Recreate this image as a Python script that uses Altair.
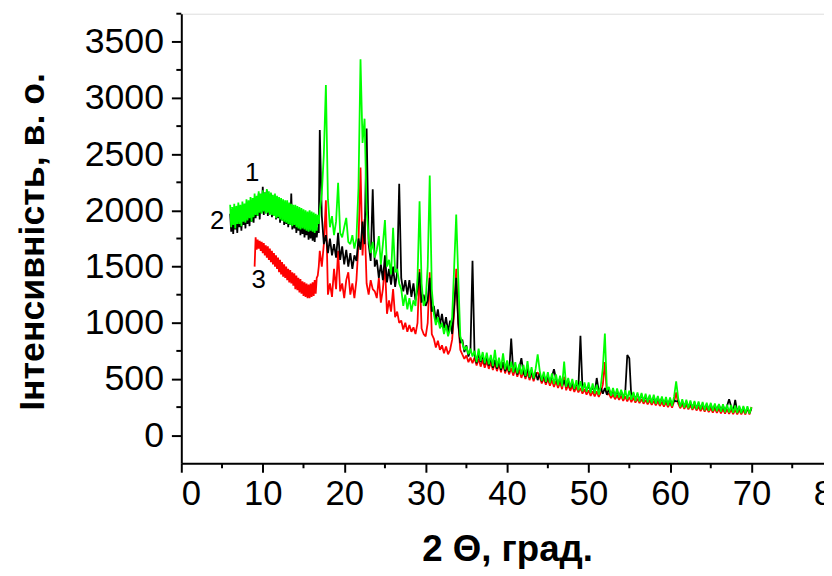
import altair as alt
import pandas as pd

FINE_STEP = 0.125
STEP = 0.25

# low-angle parts, sampled every 0.125 degree
black_low_start = 6.0
black_low = [
    1970, 1810, 1950, 1790, 2000, 1830, 1940, 1800,   # 6
    2010, 1850, 1990, 1820, 1960, 1870, 2030, 1840,   # 7
    2060, 1880, 2020, 1860, 2070, 1900, 2040, 1890,   # 8
    2110, 1930, 2080, 1950, 2150, 1920, 2120, 1980,   # 9
    2210, 1960, 2160, 1990, 2180, 1950, 2140, 1970,   # 10
    2150, 1940, 2110, 1960, 2130, 1920, 2090, 1930,   # 11
    2100, 1890, 2070, 1910, 2080, 1870, 2050, 1880,   # 12
    2040, 1850, 2010, 1870, 2150, 1830, 2000, 1840,   # 13
    1990, 1800, 1960, 1820, 1980, 1780, 1950, 1790,   # 14
    1950, 1760, 1920, 1780, 1930, 1740, 1900, 1750,   # 15
    1900, 1730, 1880, 1720, 1870, 1760, 1850, 1800,   # 16
]
green_low_start = 6.0
green_low = [
    2050, 1850, 2030, 1870, 2060, 1840, 2040, 1880,   # 6
    2070, 1880, 2050, 1860, 2080, 1900, 2060, 1890,   # 7
    2100, 1910, 2090, 1930, 2120, 1900, 2110, 1940,   # 8
    2150, 1960, 2130, 1950, 2170, 1980, 2150, 1970,   # 9
    2180, 1990, 2160, 1970, 2190, 1980, 2170, 1960,   # 10
    2160, 1960, 2140, 1950, 2150, 1930, 2130, 1940,   # 11
    2120, 1920, 2110, 1910, 2100, 1900, 2090, 1890,   # 12
    2090, 1880, 2070, 1870, 2060, 1860, 2050, 1870,   # 13
    2050, 1850, 2040, 1840, 2030, 1830, 2020, 1840,   # 14
    2010, 1830, 2000, 1820, 1990, 1810, 2000, 1820,   # 15
    1990, 1810, 1980, 1800, 1970, 1820, 1960, 1880,   # 16
]
red_low_start = 9.0
red_low = [
    1500, 1760, 1650, 1740, 1660, 1730, 1640, 1720,   # 9
    1620, 1710, 1600, 1690, 1580, 1680, 1560, 1660,   # 10
    1540, 1640, 1520, 1620, 1500, 1600, 1480, 1580,   # 11
    1450, 1560, 1430, 1540, 1410, 1520, 1400, 1500,   # 12
    1380, 1480, 1360, 1470, 1350, 1450, 1330, 1440,   # 13
    1300, 1420, 1290, 1400, 1270, 1390, 1260, 1370,   # 14
    1240, 1360, 1230, 1350, 1220, 1340, 1220, 1350,   # 15
    1230, 1360, 1240, 1380, 1260, 1400, 1420, 1500,   # 16
]

# from 17 degrees on, sampled every 0.25 degree
MAIN_START = 17.0
black_main = [
    2716, 1950, 1700, 1780,   # 17
    1620, 1750, 1600, 1700,   # 18
    1580, 1800, 1560, 1680,   # 19
    1520, 1650, 1500, 1620,   # 20
    1480, 1600, 1550, 1750,   # 21
    1650, 1900, 1700, 2728,   # 22
    1700, 1550, 2187, 1500,   # 23
    1560, 1400, 1520, 1380,   # 24
    1600, 1360, 1480, 1340,   # 25
    1500, 1320, 1450, 2237,   # 26
    1400, 1280, 1380, 1250,   # 27
    1380, 1230, 1350, 1200,   # 28
    1300, 1450, 1180, 1250,   # 29
    1150, 1200, 1400, 1100,   # 30
    1150, 1020, 1120, 980,    # 31
    1080, 950, 1050, 920,     # 32
    1020, 900, 1150, 1400,    # 33
    1000, 820, 850, 740,      # 34
    800, 700, 760, 1552,      # 35
    720, 640, 730, 650,       # 36
    710, 630, 700, 620,       # 37
    690, 600, 670, 590,       # 38
    660, 580, 650, 570,       # 39
    630, 560, 861, 560,       # 40
    620, 540, 600, 685,       # 41
    560, 520, 600, 510,       # 42
    570, 500, 560, 490,       # 43
    550, 480, 540, 470,       # 44
    530, 470, 520, 588,       # 45
    500, 450, 510, 440,       # 46
    490, 430, 480, 420,       # 47
    470, 410, 460, 420,       # 48
    884, 410, 450, 400,       # 49
    440, 390, 430, 380,       # 50
    509, 390, 420, 370,       # 51
    420, 360, 410, 355,       # 52
    400, 350, 395, 340,       # 53
    390, 335, 380, 714,       # 54
    685, 330, 370, 320,       # 55
    365, 315, 360, 305,       # 56
    350, 300, 345, 295,       # 57
    340, 290, 335, 285,       # 58
    330, 280, 320, 275,       # 59
    320, 270, 310, 300,       # 60
    305, 260, 300, 255,       # 61
    300, 250, 290, 245,       # 62
    290, 240, 285, 235,       # 63
    280, 230, 275, 228,       # 64
    272, 222, 268, 220,       # 65
    270, 218, 262, 215,       # 66
    260, 320, 255, 210,       # 67
    315, 205, 248, 202,       # 68
    245, 200, 242, 198,       # 69
    240,                      # 70
]
green_main = [
    2000, 2150, 2500, 3115,   # 17
    2100, 1850, 1950, 1780,   # 18
    1900, 2245, 1800, 1760,   # 19
    1850, 1934, 1720, 1700,   # 20
    1780, 1660, 1750, 2200,   # 21
    3345, 2600, 2816, 2000,   # 22
    1750, 1620, 1720, 1580,   # 23
    1650, 1772, 1520, 1700,   # 24
    1914, 1500, 1560, 1430,   # 25
    1845, 1450, 1480, 1350,   # 26
    1300, 1150, 1250, 1120,   # 27
    1220, 1100, 1200, 1150,   # 28
    1400, 2081, 1350, 1150,   # 29
    1200, 1500, 2310, 1300,   # 30
    1080, 980, 1050, 950,     # 31
    1000, 900, 980, 880,      # 32
    950, 1050, 1500, 1964,    # 33
    1400, 880, 820, 760,      # 34
    790, 720, 770, 700,       # 35
    750, 650, 770, 660,       # 36
    740, 640, 735, 630,       # 37
    715, 615, 760, 605,       # 38
    690, 595, 729, 585,       # 39
    665, 570, 655, 560,       # 40
    650, 550, 635, 540,       # 41
    625, 525, 660, 515,       # 42
    605, 505, 590, 720,       # 43
    575, 485, 565, 475,       # 44
    560, 465, 550, 455,       # 45
    540, 445, 530, 435,       # 46
    655, 430, 510, 425,       # 47
    500, 410, 490, 400,       # 48
    480, 390, 470, 385,       # 49
    470, 375, 460, 370,       # 50
    450, 360, 440, 600,       # 51
    905, 400, 430, 350,       # 52
    420, 340, 415, 335,       # 53
    405, 325, 400, 320,       # 54
    395, 315, 385, 305,       # 55
    380, 300, 375, 295,       # 56
    370, 290, 360, 285,       # 57
    360, 280, 350, 275,       # 58
    345, 270, 340, 265,       # 59
    335, 260, 345, 479,       # 60
    330, 250, 320, 245,       # 61
    315, 240, 310, 235,       # 62
    305, 230, 300, 228,       # 63
    295, 222, 290, 218,       # 64
    288, 215, 282, 212,       # 65
    278, 208, 275, 205,       # 66
    272, 202, 268, 200,       # 67
    265, 198, 262, 196,       # 68
    260, 194, 258, 192,       # 69
    250,                      # 70
]
red_main = [
    1640, 1500, 1700, 2090,   # 17
    1250, 1350, 1230, 1480,   # 18
    1300, 1640, 1280, 1350,   # 19
    1220, 1380, 1450, 1250,   # 20
    1350, 1220, 1380, 1700,   # 21
    2381, 1600, 1922, 1350,   # 22
    1250, 1380, 1300, 1280,   # 23
    1220, 1400, 1180, 1300,   # 24
    1523, 1080, 1200, 1100,   # 25
    1300, 1050, 1100, 1000,   # 26
    1020, 940, 1000, 920,     # 27
    980, 920, 960, 900,       # 28
    1000, 1478, 950, 900,     # 29
    880, 1000, 1450, 900,     # 30
    860, 780, 840, 760,       # 31
    800, 730, 790, 720,       # 32
    760, 850, 1100, 1481,     # 33
    1000, 760, 720, 680,      # 34
    710, 650, 690, 640,       # 35
    690, 620, 680, 610,       # 36
    670, 600, 660, 590,       # 37
    650, 580, 640, 570,       # 38
    630, 560, 650, 550,       # 39
    610, 540, 600, 530,       # 40
    590, 520, 580, 510,       # 41
    570, 500, 560, 490,       # 42
    550, 480, 540, 560,       # 43
    520, 460, 510, 450,       # 44
    500, 440, 490, 430,       # 45
    480, 420, 470, 410,       # 46
    520, 400, 450, 395,       # 47
    440, 385, 430, 380,       # 48
    420, 370, 410, 360,       # 49
    400, 350, 390, 345,       # 50
    390, 340, 380, 450,       # 51
    650, 360, 370, 330,       # 52
    360, 320, 355, 315,       # 53
    350, 305, 345, 300,       # 54
    340, 295, 335, 290,       # 55
    325, 285, 320, 280,       # 56
    315, 275, 310, 270,       # 57
    305, 265, 300, 260,       # 58
    295, 255, 290, 250,       # 59
    285, 245, 300, 380,       # 60
    280, 240, 275, 235,       # 61
    270, 230, 265, 225,       # 62
    260, 220, 255, 215,       # 63
    250, 210, 245, 205,       # 64
    240, 200, 238, 198,       # 65
    235, 195, 232, 192,       # 66
    230, 190, 228, 188,       # 67
    228, 186, 226, 185,       # 68
    225, 184, 240, 185,       # 69
    250,                      # 70
]

x_ticks = [0, 10, 20, 30, 40, 50, 60, 70]
x_minor = [5, 15, 25, 35, 45, 55, 65, 75]
y_ticks = [0, 500, 1000, 1500, 2000, 2500, 3000, 3500]
y_minor = [250, 750, 1250, 1750, 2250, 2750, 3250, 3750]

curve_labels = ["1", "2", "3"]
curve_label_x = [8.7, 4.4, 9.5]
curve_label_y = [2330, 1905, 1382]

X_DOMAIN = [0, 78.9]
Y_DOMAIN = [-250, 3750]
W = 649
H = 454


def series_frame(low_start, low_vals, main_vals):
    xs_ = [low_start + i * FINE_STEP for i in range(len(low_vals))]
    xs_ += [MAIN_START + i * STEP for i in range(len(main_vals))]
    return pd.DataFrame({"x": xs_, "y": low_vals + main_vals})


df_black = series_frame(black_low_start, black_low, black_main)
df_green = series_frame(green_low_start, green_low, green_main)
df_red = series_frame(red_low_start, red_low, red_main)

xs = alt.Scale(domain=X_DOMAIN, nice=False, zero=False)
ys = alt.Scale(domain=Y_DOMAIN, nice=False, zero=False)

TICK_FONT = "Liberation Sans, Arial, sans-serif"
TITLE_FONT = "Liberation Sans, Arial, sans-serif"

x_axis = alt.Axis(
    values=x_ticks, format="d", title="2 Θ, град.", grid=False,
    domainColor="black", domainWidth=2, tickColor="black", tickWidth=2, tickSize=9,
    labelFont=TICK_FONT, labelFontSize=35, labelColor="black", labelPadding=5,
    titleFont=TITLE_FONT, titleFontSize=37, titleFontWeight="bold", titleColor="black",
    titleX=329, titleY=98, titleAlign="center", titleBaseline="alphabetic",
)
y_axis = alt.Axis(
    values=y_ticks, format="d", title="Інтенсивність, в. о.", grid=False,
    domainColor="black", domainWidth=2, tickColor="black", tickWidth=2, tickSize=10,
    labelFont=TICK_FONT, labelFontSize=36, labelColor="black", labelPadding=8,
    titleFont=TITLE_FONT, titleFontSize=36, titleFontWeight="bold", titleColor="black",
    titleAngle=270, titleX=-139, titleY=230, titleAlign="center", titleBaseline="alphabetic",
)


def line(df, color):
    return alt.Chart(df).mark_line(color=color, strokeWidth=1.8, strokeJoin="bevel").encode(
        x=alt.X("x:Q", scale=xs, axis=x_axis),
        y=alt.Y("y:Q", scale=ys, axis=y_axis),
    )


red_line = line(df_red, "#ff0000")
black_line = line(df_black, "#000000")
green_line = line(df_green, "#00ff00")

minor_x = alt.Chart(pd.DataFrame({"x": x_minor})).mark_rule(color="black", strokeWidth=2).encode(
    x=alt.X("x:Q", scale=xs), y=alt.value(H), y2=alt.value(H + 5)
)
minor_y = alt.Chart(pd.DataFrame({"y": y_minor})).mark_rule(color="black", strokeWidth=2).encode(
    y=alt.Y("y:Q", scale=ys), x=alt.value(0), x2=alt.value(-5)
)

labels = alt.Chart(pd.DataFrame({"t": curve_labels, "x": curve_label_x, "y": curve_label_y})).mark_text(
    font=TICK_FONT, fontSize=26, color="black", align="center", baseline="middle"
).encode(x=alt.X("x:Q", scale=xs), y=alt.Y("y:Q", scale=ys), text="t:N")

edge_label = alt.Chart(pd.DataFrame({"x": [80], "t": ["80"]})).mark_text(
    font=TICK_FONT, fontSize=35, color="black", align="center", baseline="top"
).encode(x=alt.X("x:Q", scale=xs), y=alt.value(H + 14), text="t:N")

chart = alt.layer(
    red_line, black_line, green_line, minor_x, minor_y, labels, edge_label
).properties(
    width=W, height=H,
    autosize=alt.AutoSizeParams(type="none"),
    padding={"left": 175, "top": 3, "right": 0, "bottom": 109},
).configure_view(stroke=None).configure(background="white")

chart.save("out.html", embed_options={"renderer": "svg", "actions": False})
